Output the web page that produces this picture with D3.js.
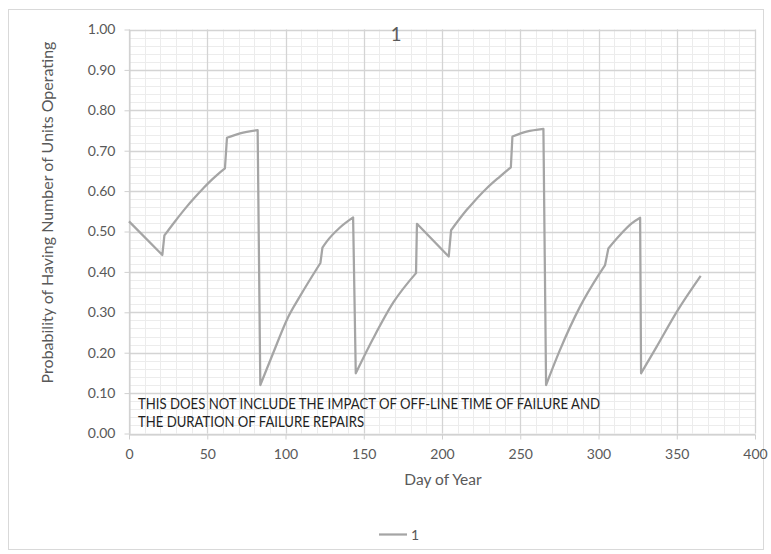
<!DOCTYPE html>
<html>
<head>
<meta charset="utf-8">
<script src="https://cdn.jsdelivr.net/npm/d3@7"></script>
<style>
  body { margin: 0; background: #fff; }
  svg { display: block; }
  text { font-family: Lato, "Open Sans", "DejaVu Sans", sans-serif; fill: #595959; }
</style>
</head>
<body>
<svg id="chart" width="771" height="554"></svg>
<script>
// Day of year and probability of having the number of units operating
const days = [
  0, 21.3, 22.6, 29, 36.8, 42, 47.5, 51, 56, 61.3,
  62.6, 71, 82.2,
  83.9, 92, 101.8, 109.3, 122.3,
  123.6, 126.3, 134.8, 143.2,
  144.9, 156, 169, 183.4,
  184, 204.3,
  205.8, 215.7, 220, 228.6, 237, 244,
  245, 254, 264.8,
  266.5, 275.4, 288.2, 300, 304.2,
  306.3, 312.7, 321.2, 326.6,
  327.2, 337.2, 350, 365.3
];
const probability = [
  0.525, 0.442, 0.490, 0.523, 0.561, 0.584, 0.607, 0.621, 0.639, 0.656,
  0.732, 0.743, 0.751,
  0.120, 0.198, 0.289, 0.340, 0.422,
  0.460, 0.475, 0.510, 0.535,
  0.149, 0.235, 0.325, 0.397,
  0.519, 0.438,
  0.503, 0.553, 0.572, 0.607, 0.636, 0.659,
  0.735, 0.747, 0.754,
  0.120, 0.207, 0.314, 0.392, 0.417,
  0.458, 0.487, 0.520, 0.534,
  0.149, 0.215, 0.301, 0.390
];

const xTicks = [0, 50, 100, 150, 200, 250, 300, 350, 400];
const yTicks = [0, 0.1, 0.2, 0.3, 0.4, 0.5, 0.6, 0.7, 0.8, 0.9, 1.0];
const xMinorStep = 10;
const yMinorStep = 0.02;

const chartTitle = "1";
const seriesName = "1";
const xTitle = "Day of Year";
const yTitle = "Probability of Having Number of Units Operating";
const noteLines = [
  "THIS DOES NOT INCLUDE THE IMPACT OF OFF-LINE TIME OF FAILURE AND",
  "THE DURATION OF FAILURE REPAIRS"
];

const svg = d3.select("#chart");
const plot = { left: 129, right: 755, top: 29.5, bottom: 433.5 };

// Chart area frame
svg.append("rect")
  .attr("x", 8.5).attr("y", 9.5)
  .attr("width", 755).attr("height", 540)
  .attr("fill", "#fff").attr("stroke", "#d9d9d9").attr("stroke-width", 1);

const x = d3.scaleLinear().domain([0, 400]).range([plot.left, plot.right]);
const y = d3.scaleLinear().domain([0, 1]).range([plot.bottom, plot.top]);
const px = v => Math.round(v) + 0.5;

const grid = svg.append("g");

// Minor gridlines
const xMinor = d3.range(0, 400 + 1e-9, xMinorStep);
const yMinor = d3.range(0, 1 + 1e-9, yMinorStep);
grid.selectAll("line.xminor").data(xMinor).join("line")
  .attr("x1", d => px(x(d))).attr("x2", d => px(x(d)))
  .attr("y1", plot.top).attr("y2", plot.bottom)
  .attr("stroke", "#ececec").attr("stroke-width", 1);
grid.selectAll("line.yminor").data(yMinor).join("line")
  .attr("y1", d => px(y(d))).attr("y2", d => px(y(d)))
  .attr("x1", plot.left).attr("x2", plot.right)
  .attr("stroke", "#ececec").attr("stroke-width", 1);

// Major gridlines
grid.selectAll("line.xmajor").data(xTicks).join("line")
  .attr("x1", d => px(x(d))).attr("x2", d => px(x(d)))
  .attr("y1", plot.top).attr("y2", plot.bottom)
  .attr("stroke", "#d4d4d4").attr("stroke-width", 1.3);
grid.selectAll("line.ymajor").data(yTicks).join("line")
  .attr("y1", d => px(y(d))).attr("y2", d => px(y(d)))
  .attr("x1", plot.left).attr("x2", plot.right)
  .attr("stroke", "#d4d4d4").attr("stroke-width", 1.3);

// Axes
const xAxis = svg.append("g")
  .attr("transform", `translate(0,${px(plot.bottom)})`)
  .call(d3.axisBottom(x).tickValues(xTicks).tickFormat(d3.format("d"))
    .tickSize(5).tickPadding(10).tickSizeOuter(0));
const yAxis = svg.append("g")
  .attr("transform", `translate(${px(plot.left)},0)`)
  .call(d3.axisLeft(y).tickValues(yTicks).tickFormat(d3.format(".2f"))
    .tickSize(5).tickPadding(9).tickSizeOuter(0));

[xAxis, yAxis].forEach(g => {
  g.select(".domain").attr("stroke", "#d0d0d0");
  g.selectAll(".tick line").attr("stroke", "#d0d0d0");
  g.selectAll(".tick text")
    .attr("fill", "#595959")
    .style("font-size", "14px");
});

// Annotation inside the plot (condensed to the width of the note box)
const noteWidths = [462, 226];
svg.append("g").selectAll("text").data(noteLines).join("text")
  .attr("x", 138)
  .attr("y", (d, i) => 408.5 + i * 18)
  .attr("textLength", (d, i) => noteWidths[i])
  .attr("lengthAdjust", "spacingAndGlyphs")
  .style("font-size", "15px")
  .style("fill", "#1f1f1f")
  .text(d => d);

// Series line: smooth runs between the jumps, straight connectors at the jumps
const pts = days.map((d, i) => [d, probability[i]]);
const runs = [[pts[0]]];
for (let i = 1; i < pts.length; i++) {
  const slope = Math.abs((pts[i][1] - pts[i - 1][1]) / (pts[i][0] - pts[i - 1][0]));
  if (slope > 0.015) runs.push([pts[i]]);
  else runs[runs.length - 1].push(pts[i]);
}
const smooth = d3.line().x(d => x(d[0])).y(d => y(d[1])).curve(d3.curveMonotoneX);
const pathD = runs.map((r, i) => {
  const s = smooth(r);
  return i === 0 ? s : "L" + s.slice(1);
}).join("");
svg.append("path")
  .attr("fill", "none")
  .attr("stroke", "#a5a5a5")
  .attr("stroke-width", 2.25)
  .attr("stroke-linejoin", "round")
  .attr("d", pathD);

// Title
svg.append("text")
  .attr("x", 396).attr("y", 41)
  .attr("text-anchor", "middle")
  .style("font-size", "18.5px")
  .text(chartTitle);

// Axis titles
svg.append("text")
  .attr("x", 443).attr("y", 485)
  .attr("text-anchor", "middle")
  .style("font-size", "15.5px")
  .text(xTitle);
svg.append("text")
  .attr("transform", "translate(53,212.5) rotate(-90)")
  .attr("text-anchor", "middle")
  .style("font-size", "16px")
  .text(yTitle);

// Legend
const legend = svg.append("g").attr("transform", "translate(379,534.5)");
legend.append("line")
  .attr("x1", 0).attr("x2", 28).attr("y1", 0).attr("y2", 0)
  .attr("stroke", "#a5a5a5").attr("stroke-width", 2.25);
legend.append("text")
  .attr("x", 32).attr("y", 5)
  .style("font-size", "14px")
  .text(seriesName);
</script>
</body>
</html>
